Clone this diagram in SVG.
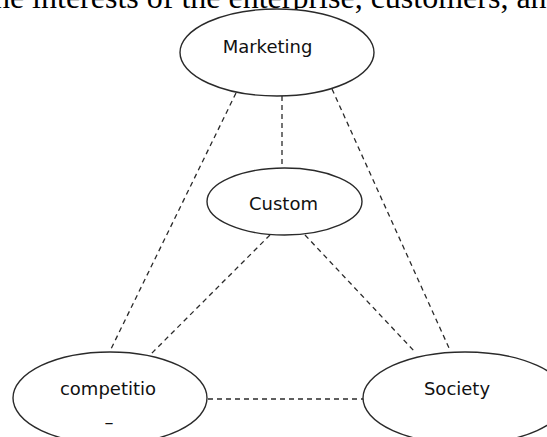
<svg xmlns="http://www.w3.org/2000/svg" width="547" height="437" viewBox="0 0 547 437">
  <style>
    .node { fill: #ffffff; stroke: #2a2a2a; stroke-width: 1.4; }
    .label { font-family: "DejaVu Sans", sans-serif; font-size: 18px; fill: #111111; text-anchor: middle; }
    .conn { stroke: #2a2a2a; stroke-width: 1.3; stroke-dasharray: 5 4; fill: none; }
    .caption { font-family: "Liberation Serif", "Times New Roman", serif; font-size: 32px; fill: #000000; }
  </style>
  <rect width="547" height="437" fill="#ffffff"/>
  <text class="caption" x="-15" y="7.5">the interests of the enterprise, customers, and</text>
  <g id="connectors">
    <line class="conn" x1="236" y1="93" x2="110" y2="351"/>
    <line class="conn" x1="282" y1="96" x2="282" y2="168"/>
    <line class="conn" x1="332" y1="89" x2="449" y2="348"/>
    <line class="conn" x1="270" y1="235" x2="148" y2="357"/>
    <line class="conn" x1="305" y1="235" x2="415" y2="352"/>
    <line class="conn" x1="208" y1="399" x2="363" y2="399"/>
  </g>
  <g id="marketing">
    <ellipse class="node" cx="277" cy="52.5" rx="97" ry="43.5"/>
    <text class="label" x="267.5" y="53">Marketing</text>
  </g>
  <g id="custom">
    <ellipse class="node" cx="284.5" cy="201.5" rx="77.5" ry="33.5"/>
    <text class="label" x="283.5" y="210">Custom</text>
  </g>
  <g id="competition">
    <ellipse class="node" cx="110" cy="398" rx="97" ry="46"/>
    <text class="label" x="108" y="395">competitio</text>
    <text class="label" x="109" y="428">–</text>
  </g>
  <g id="society">
    <ellipse class="node" cx="465" cy="398" rx="102" ry="46"/>
    <text class="label" x="457" y="395">Society</text>
  </g>
</svg>
